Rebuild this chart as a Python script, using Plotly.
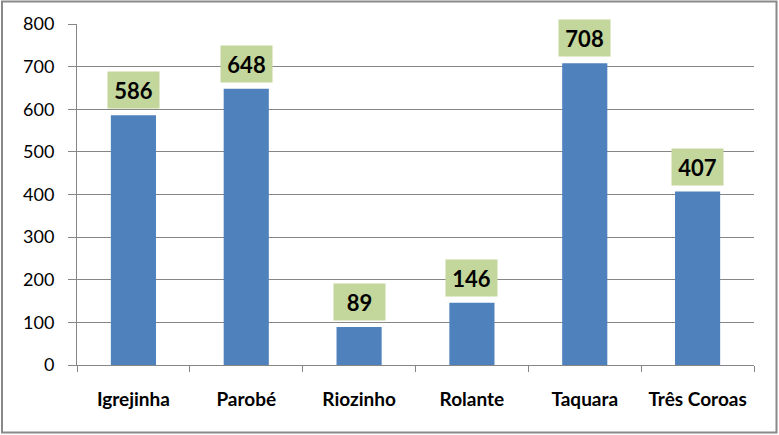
import plotly.graph_objects as go

categories = ["Igrejinha", "Parobé", "Riozinho", "Rolante", "Taquara", "Três Coroas"]
values = [586, 648, 89, 146, 708, 407]
y_ticks = [0, 100, 200, 300, 400, 500, 600, 700, 800]

BAR = "#4F81BD"
LABEL_BG = "#C3D69B"
GRID = "#868686"
FONT = "Lato"

fig = go.Figure(go.Bar(x=categories, y=values, marker=dict(color=BAR, line=dict(width=0)),
                       hoverinfo="skip"))

for c, v in zip(categories, values):
    fig.add_annotation(x=c, y=v, xref="x", yref="y", text=f"<b>{v}</b>",
                       showarrow=False, yanchor="bottom", yshift=6,
                       width=51, height=36, bgcolor=LABEL_BG, borderpad=0,
                       font=dict(family=FONT, size=22, color="black"))

W, H = 779, 435
L, R, T, B = 77, 25, 24, 70
pw, ph = W - L - R, H - T - B

def px(x):
    return (x - L) / pw

def py(y):
    return (H - B - y) / ph

fig.add_shape(type="rect", xref="paper", yref="paper",
              x0=px(2), x1=px(776.5), y0=py(432.5), y1=py(1.5),
              line=dict(color="#898989", width=2), layer="above")

fig.update_layout(
    width=W, height=H,
    margin=dict(l=L, r=R, t=T, b=B),
    paper_bgcolor="white", plot_bgcolor="white",
    bargap=0.6, showlegend=False,
    font=dict(family=FONT, color="black"),
    xaxis=dict(showline=True, linecolor=GRID, linewidth=1,
               ticks="outside", tickson="boundaries", ticklen=6, tickcolor=GRID,
               tickfont=dict(family=FONT, size=19, color="black", weight="bold"),
               ticklabelstandoff=17, showgrid=False),
    yaxis=dict(range=[0, 800], tickvals=y_ticks, showline=True, linecolor=GRID, linewidth=1,
               ticks="outside", ticklen=8, tickcolor=GRID,
               showgrid=True, gridcolor=GRID, gridwidth=1, zeroline=False,
               tickfont=dict(family=FONT, size=18, color="black"),
               ticklabelstandoff=10),
)

fig.write_html("out.html", config={"displayModeBar": False},
               post_script="document.body.style.margin='0';document.body.style.overflow='hidden';")
